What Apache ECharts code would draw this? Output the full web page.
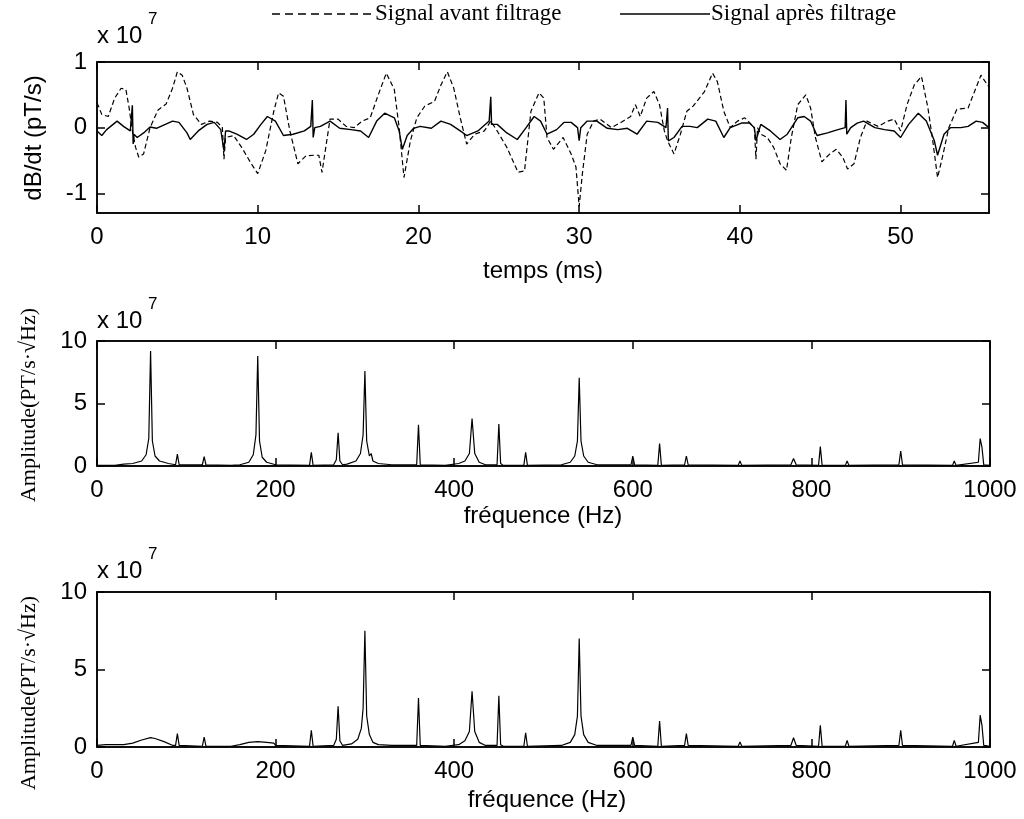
<!DOCTYPE html>
<html>
<head>
<meta charset="utf-8">
<script src="https://cdn.jsdelivr.net/npm/echarts@6/dist/echarts.min.js"></script>
<style>
html,body{margin:0;padding:0;background:#fff;}
#c{width:1024px;height:819px;}
</style>
</head>
<body>
<div id="c"></div>
<script>
// ---- Data ----
// Top panel: dB/dt (x1e7 pT/s) vs time (ms)
var signalAvant = [
[0,0.38],[0.3,0.2],[0.7,0.17],[1.1,0.45],[1.5,0.6],[1.8,0.58],[2.0,0.3],[2.2,-0.05],[2.4,-0.3],[2.6,-0.45],
[2.9,-0.4],[3.3,0.0],[3.8,0.27],[4.3,0.36],[4.7,0.6],[5.0,0.85],[5.3,0.8],[5.6,0.6],[6.0,0.2],[6.5,0.05],
[7.0,0.1],[7.5,0.08],[7.8,0.0],[7.9,-0.48],[8.0,-0.15],[8.5,-0.12],[9.0,-0.3],[9.6,-0.55],[10.0,-0.7],[10.5,-0.35],
[11.0,0.25],[11.3,0.53],[11.6,0.48],[12.0,-0.05],[12.5,-0.55],[13.0,-0.43],[13.5,-0.42],[13.8,-0.42],[14.0,-0.68],[14.5,0.13],
[15.0,0.13],[15.5,0.02],[16.0,0.0],[16.5,0.1],[17.0,0.15],[17.5,0.5],[18.0,0.83],[18.5,0.58],[18.8,0.0],[19.1,-0.76],
[19.5,-0.2],[19.9,0.15],[20.4,0.33],[21.0,0.4],[21.4,0.65],[21.8,0.85],[22.2,0.6],[22.6,0.15],[23.0,-0.25],[23.5,-0.1],
[24.1,-0.05],[24.5,0.1],[24.9,-0.05],[25.5,-0.3],[26.2,-0.68],[26.6,-0.66],[27.0,0.25],[27.5,0.53],[27.8,0.45],[28.0,-0.15],
[28.4,-0.33],[29.0,-0.15],[29.5,-0.4],[29.8,-0.6],[30.0,-1.2],[30.2,-0.7],[30.5,-0.1],[30.9,0.1],[31.3,0.13],[32.0,0.0],
[32.6,0.08],[33.2,0.17],[33.5,0.35],[33.8,0.17],[34.2,0.45],[34.65,0.55],[35.0,0.35],[35.3,-0.05],[35.5,-0.2],[35.9,-0.4],
[36.3,-0.1],[36.7,0.25],[37.1,0.33],[37.8,0.55],[38.3,0.83],[38.6,0.7],[39.0,0.25],[39.4,0.0],[39.85,0.1],[40.3,0.15],
[40.7,0.05],[40.9,0.0],[41.0,-0.48],[41.1,0.0],[41.3,-0.1],[41.7,-0.15],[42.1,-0.3],[42.5,-0.55],[42.9,-0.65],[43.2,-0.15],
[43.6,0.35],[44.1,0.5],[44.4,0.3],[44.7,-0.15],[45.1,-0.52],[45.6,-0.4],[46.0,-0.33],[46.4,-0.45],[46.7,-0.63],[47.1,-0.55],
[47.5,-0.15],[47.9,0.1],[48.6,0.02],[49.2,0.1],[49.6,0.13],[50.0,-0.05],[50.4,0.35],[50.85,0.65],[51.3,0.78],[51.7,0.3],
[52.0,-0.2],[52.3,-0.76],[52.6,-0.45],[53.0,0.0],[53.5,0.28],[54.2,0.3],[54.6,0.55],[55.0,0.8],[55.4,0.65],[55.5,0.62]
];
var signalApres = [
[0,-0.05],[0.3,-0.12],[0.6,-0.03],[1.25,0.1],[1.65,0.02],[2.07,-0.05],[2.2,0.34],[2.25,-0.25],[2.3,-0.1],[2.5,-0.15],
[2.9,-0.08],[3.3,0.01],[3.7,-0.01],[4.25,0.05],[4.7,0.1],[5.1,0.08],[5.6,-0.08],[5.8,-0.18],[6.3,-0.05],[6.85,0.05],
[7.3,0.08],[7.7,-0.03],[7.9,-0.35],[8.0,-0.05],[8.2,-0.05],[8.7,-0.1],[9.3,-0.18],[9.75,-0.1],[10.2,0.05],[10.6,0.17],
[11.1,0.1],[11.6,-0.12],[12.2,-0.1],[12.9,-0.05],[13.3,0.02],[13.4,0.42],[13.45,-0.15],[13.55,0.0],[13.9,0.02],[14.5,0.1],
[15.1,-0.01],[15.8,-0.03],[16.4,-0.05],[16.9,-0.15],[17.4,0.1],[17.9,0.22],[18.5,0.15],[18.8,-0.05],[19.0,-0.33],[19.3,-0.12],
[19.7,-0.01],[20.1,0.02],[20.8,-0.01],[21.4,0.1],[22.0,0.05],[22.6,-0.05],[23.0,-0.12],[23.7,-0.05],[24.4,0.1],[24.5,0.47],
[24.55,0.05],[24.9,0.05],[25.5,-0.08],[26.15,-0.18],[26.7,0.0],[27.2,0.17],[27.6,0.1],[28.0,-0.1],[28.6,-0.03],[29.05,0.08],
[29.5,0.08],[29.9,0.0],[30.0,-0.2],[30.1,0.0],[30.5,0.1],[31.1,0.1],[31.75,-0.01],[32.4,-0.03],[33.0,-0.01],[33.6,-0.1],
[34.2,0.1],[34.9,0.08],[35.4,0.0],[35.5,0.3],[35.55,-0.2],[35.9,-0.15],[36.4,0.02],[36.9,0.02],[37.35,0.0],[38.0,0.13],
[38.5,0.1],[39.0,-0.15],[39.4,0.0],[40.1,0.07],[40.6,0.07],[40.9,0.0],[41.0,-0.2],[41.3,0.05],[41.9,-0.05],[42.5,-0.18],
[42.95,-0.1],[43.6,0.15],[44.0,0.17],[44.4,0.1],[44.8,-0.12],[45.45,-0.08],[46.1,-0.03],[46.55,0.0],[46.6,0.42],[46.65,-0.1],
[46.9,0.0],[47.3,0.07],[47.7,0.1],[48.4,0.0],[49.0,-0.03],[49.6,-0.05],[50.0,-0.15],[50.5,0.05],[51.1,0.22],[51.6,0.1],
[52.1,-0.2],[52.3,-0.42],[52.7,-0.1],[53.1,0.0],[53.75,0.0],[54.2,0.02],[54.7,0.1],[55.1,0.08],[55.5,0.0]
];
// Middle panel: spectrum before filtering (x1e7), frequency in Hz
var spectreAvant = [
[0,0.05],[20,0.05],[30,0.15],[40,0.2],[50,0.4],[55,0.9],[58,2.2],[60,9.2],[62,2.0],[65,0.8],
[70,0.4],[80,0.2],[88,0.1],[90,0.95],[92,0.1],[118,0.1],[120,0.75],[122,0.1],[150,0.05],[160,0.1],
[170,0.3],[175,0.9],[178,2.5],[180,8.8],[182,2.0],[185,0.7],[190,0.3],[200,0.1],[238,0.05],[240,1.1],
[242,0.05],[265,0.1],[268,0.5],[270,2.66],[272,0.4],[275,0.1],[280,0.15],[290,0.4],[295,1.0],[298,2.5],
[300,7.6],[302,2.0],[305,0.8],[307,1.0],[309,0.4],[315,0.2],[330,0.1],[358,0.1],[360,3.3],[362,0.1],
[390,0.05],[405,0.2],[412,0.4],[417,1.0],[420,3.8],[423,1.0],[428,0.3],[435,0.1],[448,0.1],[450,3.35],
[452,0.2],[455,0.05],[478,0.05],[480,1.1],[482,0.05],[520,0.1],[530,0.3],[535,0.8],[538,2.0],[540,7.05],
[542,2.0],[545,0.8],[550,0.3],[560,0.1],[598,0.1],[600,0.8],[602,0.1],[628,0.05],[630,1.8],[632,0.05],
[658,0.1],[660,0.8],[662,0.1],[718,0.05],[720,0.4],[722,0.05],[777,0.1],[780,0.6],[783,0.1],[808,0.05],
[810,1.55],[812,0.05],[838,0.05],[840,0.4],[842,0.05],[898,0.1],[900,1.2],[902,0.1],[958,0.05],[960,0.4],
[962,0.05],[987,0.3],[989,2.2],[991,1.5],[993,0.1],[1000,0.05]
];
// Bottom panel: spectrum after filtering (x1e7)
var spectreApres = [
[0,0.1],[10,0.15],[20,0.15],[30,0.15],[40,0.25],[50,0.45],[60,0.6],[62,0.7],[65,0.55],[75,0.35],
[85,0.1],[88,0.1],[90,0.86],[92,0.1],[118,0.05],[120,0.64],[122,0.05],[150,0.05],[160,0.15],[170,0.3],
[180,0.35],[190,0.3],[198,0.25],[200,0.1],[238,0.05],[240,1.08],[242,0.05],[265,0.1],[268,0.5],[270,2.63],
[272,0.4],[275,0.1],[285,0.2],[292,0.5],[296,1.2],[298,2.5],[300,7.5],[302,2.0],[305,0.8],[307,0.9],
[309,0.3],[315,0.15],[330,0.1],[358,0.1],[360,3.16],[362,0.1],[390,0.05],[405,0.15],[412,0.4],[417,1.0],
[420,3.6],[423,1.0],[428,0.3],[435,0.1],[448,0.1],[450,3.3],[452,0.15],[455,0.05],[478,0.05],[480,0.92],
[482,0.05],[520,0.1],[530,0.3],[535,0.8],[538,2.0],[540,7.0],[542,2.0],[545,0.8],[550,0.3],[560,0.1],
[598,0.1],[600,0.64],[602,0.1],[628,0.05],[630,1.68],[632,0.05],[658,0.1],[660,0.86],[662,0.1],[718,0.05],
[720,0.33],[722,0.05],[777,0.1],[780,0.6],[783,0.1],[808,0.05],[810,1.4],[812,0.05],[838,0.05],[840,0.43],
[842,0.05],[898,0.1],[900,1.08],[902,0.1],[958,0.05],[960,0.43],[962,0.05],[987,0.3],[989,2.05],[991,1.4],
[993,0.1],[1000,0.05]
];
var topYTicks = [-1, 0, 1];
var topXTicks = [0, 10, 20, 30, 40, 50];
var legendLabels = ['Signal avant filtrage', 'Signal après filtrage'];
var axisTitles = { t: 'temps (ms)', f: 'fréquence (Hz)', y1: 'dB/dt (pT/s)', y2: 'Amplitude(PT/s·√Hz)' };

// ---- Chart ----
var SANS = 'Liberation Sans, Arial, sans-serif';
var SERIF = 'Liberation Serif, Times New Roman, serif';
var chart = echarts.init(document.getElementById('c'), null, { renderer: 'canvas' });

var grids = [
  { left: 97, right: 35, top: 62, height: 151 },
  { left: 97, right: 34, top: 341, height: 125 },
  { left: 97, right: 34, top: 592, height: 155 }
];
grids.forEach(function (g) { g.show = true; g.borderColor = '#000'; g.borderWidth = 1.5; g.containLabel = false; });

function baseAxis(gi, min, max, pos, showLabel, margin) {
  return {
    type: 'value', gridIndex: gi, position: pos, min: min, max: max,
    axisLine: { show: true, onZero: false, lineStyle: { color: '#000', width: 1.5 } },
    axisTick: { show: true, inside: true, length: 8, lineStyle: { color: '#000', width: 1.5 } },
    axisLabel: { show: showLabel, color: '#000', fontSize: 24, fontFamily: SANS, margin: margin,
      formatter: function (v) { return String(v); } },
    splitLine: { show: false }
  };
}
function ax(gi, min, max, interval, pos, showLabel, margin, custom) {
  var a = baseAxis(gi, min, max, pos, showLabel, margin);
  if (custom) { a.axisTick.customValues = custom; a.axisLabel.customValues = custom; }
  else { a.interval = interval; }
  return a;
}

var xAxes = [
  ax(0, 0, 55.5, null, 'bottom', true, 12, topXTicks), ax(0, 0, 55.5, null, 'top', false, 12, topXTicks),
  ax(1, 0, 1000, 200, 'bottom', true, 12), ax(1, 0, 1000, 200, 'top', false, 12),
  ax(2, 0, 1000, 200, 'bottom', true, 12), ax(2, 0, 1000, 200, 'top', false, 12)
];
var yAxes = [
  ax(0, -1.3, 1, null, 'left', true, 10, topYTicks), ax(0, -1.3, 1, null, 'right', false, 10, topYTicks),
  ax(1, 0, 10, 5, 'left', true, 10), ax(1, 0, 10, 5, 'right', false, 10),
  ax(2, 0, 10, 5, 'left', true, 10), ax(2, 0, 10, 5, 'right', false, 10)
];

function line(name, data, xi, yi, type, w) {
  return { name: name, type: 'line', xAxisIndex: xi, yAxisIndex: yi, data: data, symbol: 'none',
    animation: false, silent: true,
    lineStyle: { color: '#000', width: w, type: type } };
}

function txt(x, y, s, size, font, align, rot) {
  return { type: 'text', x: x, y: y, rotation: rot || 0, silent: true,
    style: { text: s, fill: '#000', font: 'normal ' + size + 'px ' + font,
      textAlign: align || 'center', textVerticalAlign: 'middle' } };
}
function x10(x, y) {
  return [txt(x, y, 'x 10', 24, SANS, 'left'), txt(x + 51, y - 17, '7', 17, SANS, 'left')];
}

var graphics = []
  .concat(x10(97, 36))
  .concat(x10(97, 321))
  .concat(x10(97, 571))
  .concat([
    txt(543, 271, axisTitles.t, 24, SANS),
    txt(543, 516, axisTitles.f, 24, SANS),
    txt(547, 800, axisTitles.f, 24, SANS),
    txt(34, 138, axisTitles.y1, 24, SANS, 'center', Math.PI / 2),
    txt(29, 405, axisTitles.y2, 22, SERIF, 'center', Math.PI / 2),
    txt(29, 693, axisTitles.y2, 22, SERIF, 'center', Math.PI / 2),
    txt(375, 14, legendLabels[0], 23, SERIF, 'left'),
    txt(711, 14, legendLabels[1], 23, SERIF, 'left'),
    { type: 'line', silent: true, shape: { x1: 272, y1: 14, x2: 372, y2: 14 },
      style: { stroke: '#000', lineWidth: 1.5, lineDash: [8, 5] } },
    { type: 'line', silent: true, shape: { x1: 620, y1: 14, x2: 710, y2: 14 },
      style: { stroke: '#000', lineWidth: 1.5 } }
  ]);

chart.setOption({
  backgroundColor: '#fff',
  animation: false,
  grid: grids,
  xAxis: xAxes,
  yAxis: yAxes,
  series: [
    line(legendLabels[0], signalAvant, 0, 0, [5, 3], 1.2),
    line(legendLabels[1], signalApres, 0, 0, 'solid', 1.4),
    line('spectre avant', spectreAvant, 2, 2, 'solid', 1.2),
    line('spectre après', spectreApres, 4, 4, 'solid', 1.2)
  ],
  graphic: graphics
});
</script>
</body>
</html>
